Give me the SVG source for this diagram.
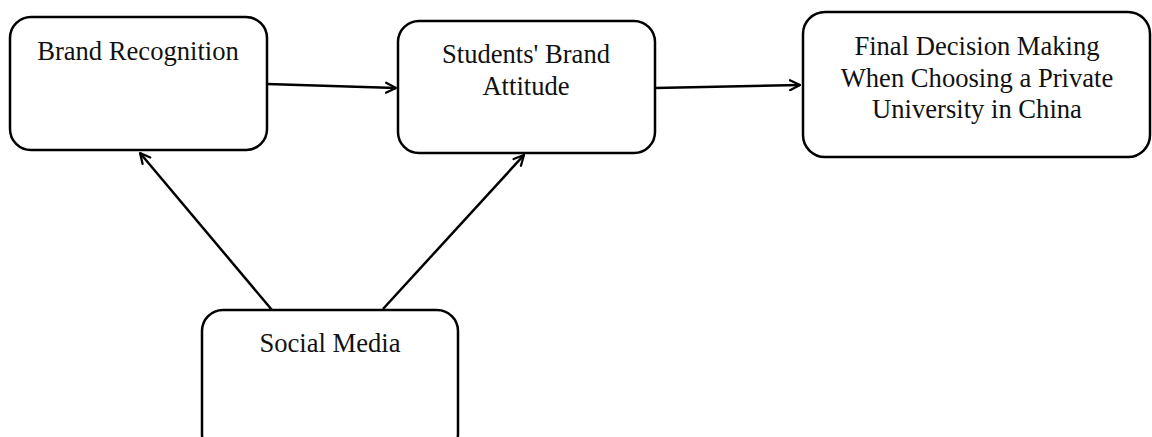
<svg xmlns="http://www.w3.org/2000/svg" width="1152" height="437" viewBox="0 0 1152 437">
  <style>
    .box { fill: #ffffff; stroke: #000000; stroke-width: 2.5; }
    .label { font-family: "Liberation Serif", "Times New Roman", serif; font-size: 26.6px; fill: #111111; text-anchor: middle; }
    .link { stroke: #000000; stroke-width: 2.5; fill: none; marker-end: url(#arrow); }
  </style>
  <defs>
    <marker id="arrow" viewBox="0 0 10 10" refX="9" refY="5" markerWidth="5" markerHeight="5" markerUnits="strokeWidth" orient="auto">
      <polyline points="1,1 9,5 1,9" fill="none" stroke="#000000" stroke-width="1.8" stroke-linecap="round" stroke-linejoin="round"/>
    </marker>
  </defs>

  <rect width="1152" height="437" fill="#ffffff"/>

  <g id="connectors">
    <line class="link" x1="267" y1="84" x2="396" y2="88"/>
    <line class="link" x1="655" y1="88" x2="800" y2="85"/>
    <line class="link" x1="272" y1="310" x2="140" y2="153"/>
    <line class="link" x1="383" y1="309" x2="524" y2="155"/>
  </g>

  <g id="brand-recognition">
    <rect class="box" x="10" y="17" width="257" height="133" rx="21"/>
    <text class="label" x="138" y="60">Brand Recognition</text>
  </g>

  <g id="brand-attitude">
    <rect class="box" x="398" y="21" width="257" height="132" rx="21"/>
    <text class="label" x="526" y="63">Students' Brand</text>
    <text class="label" x="526" y="95">Attitude</text>
  </g>

  <g id="final-decision">
    <rect class="box" x="803" y="12" width="347" height="145" rx="22"/>
    <text class="label" x="977" y="55">Final Decision Making</text>
    <text class="label" x="977" y="87">When Choosing a Private</text>
    <text class="label" x="977" y="118">University in China</text>
  </g>

  <g id="social-media">
    <rect class="box" x="202" y="310" width="256" height="145" rx="21"/>
    <text class="label" x="330" y="352">Social Media</text>
  </g>
</svg>
